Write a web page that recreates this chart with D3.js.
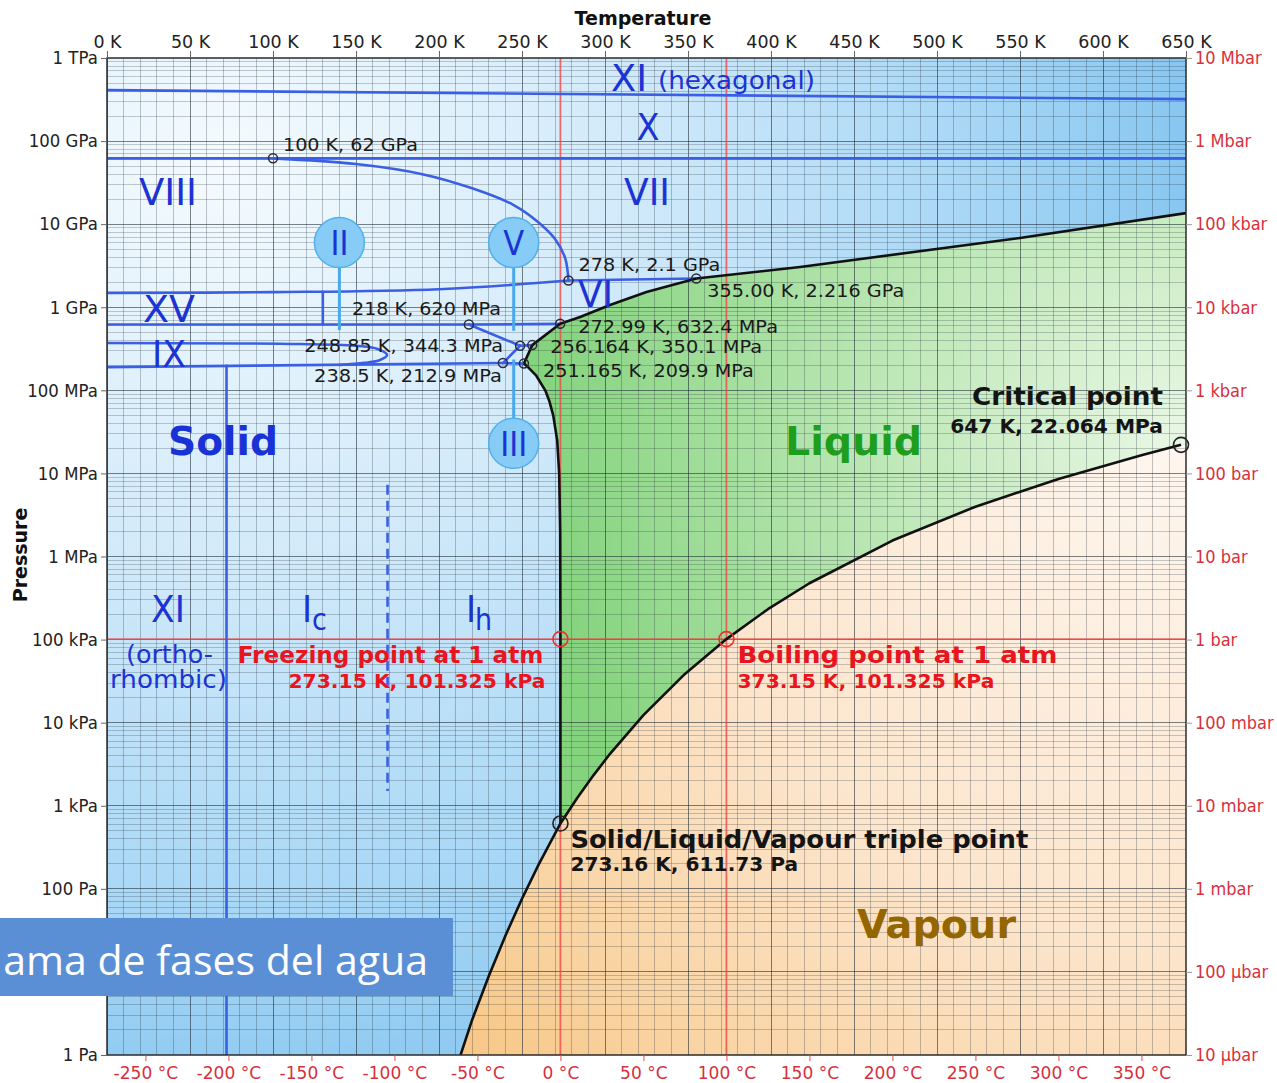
<!DOCTYPE html>
<html>
<head>
<meta charset="utf-8">
<script src="https://cdn.jsdelivr.net/npm/d3@7"></script>
<style>
  html, body { margin: 0; padding: 0; background: #ffffff; }
  svg { display: block; }
</style>
</head>
<body>
<svg id="chart" width="1277" height="1083"></svg>
<script>
// ---------------------------------------------------------------------------
// Data: phase diagram of water (temperature in K, pressure in Pa)
// ---------------------------------------------------------------------------
const tempTicksK = [0, 50, 100, 150, 200, 250, 300, 350, 400, 450, 500, 550, 600, 650];
const tempTicksC = [-250, -200, -150, -100, -50, 0, 50, 100, 150, 200, 250, 300, 350];
const pressureTicks = [1, 1e1, 1e2, 1e3, 1e4, 1e5, 1e6, 1e7, 1e8, 1e9, 1e10, 1e11, 1e12];
const pressureLabels = ["1 Pa", "10 Pa", "100 Pa", "1 kPa", "10 kPa", "100 kPa", "1 MPa",
                        "10 MPa", "100 MPa", "1 GPa", "10 GPa", "100 GPa", "1 TPa"];
const barTicks = [1e-5, 1e-4, 1e-3, 1e-2, 1e-1, 1, 10, 100, 1e3, 1e4, 1e5, 1e6, 1e7];
const barLabels = ["10 µbar", "100 µbar", "1 mbar", "10 mbar", "100 mbar", "1 bar", "10 bar",
                   "100 bar", "1 kbar", "10 kbar", "100 kbar", "1 Mbar", "10 Mbar"];

// Solid / vapour boundary
const sublimationCurve = [[213, 1.0], [220, 2.66], [230, 8.94], [240, 27.3], [250, 76.0],
                          [260, 195.8], [273.16, 611.73]];
// Liquid / vapour boundary
const vaporisationCurve = [[273.16, 611.73], [283.15, 1228], [293.15, 2339], [303.15, 4246],
                           [323.15, 12350], [348.15, 38580], [373.15, 101325], [398.15, 232200],
                           [423.15, 476200], [473.15, 1554700], [523.15, 3976000],
                           [573.15, 8587000], [623.15, 16529000], [647, 22064000]];
// Melting curves (ice Ih, III, V, VI, VII)
const meltingIh = [[273.16, 611.73], [273.15, 101325], [273.0, 2e6], [272.4, 1e7], [271.2, 2.5e7],
                   [268.8, 5e7], [266.4, 7.5e7], [264.0, 1e8], [258.6, 1.5e8], [253.6, 1.9e8],
                   [251.165, 209.9e6]];
const meltingIII = [[251.165, 209.9e6], [256.164, 350.1e6]];
const meltingV = [[256.164, 350.1e6], [272.99, 632.4e6]];
const meltingVI = [[272.99, 632.4e6], [285, 0.764e9], [303, 1.065e9], [325, 1.53e9], [355, 2.216e9]];
const meltingVII = [[355, 2.216e9], [417.5, 3.05e9], [550, 6.82e9], [650, 13.6e9]];

// Solid / solid boundaries
const lineXIhexX = [[0, 4.1e11], [650, 3.2e11]];
const lineXVII = [[0, 62e9], [650, 62e9]];
const lineVIIIVII = [[100, 62e9], [150, 53e9], [190, 40e9], [220, 27e9], [245, 17e9],
                     [260, 10.5e9], [270, 6.6e9], [276, 3.9e9], [278, 2.1e9]];
const lineVIVII = [[278, 2.1e9], [355, 2.216e9]];
const lineVIIIVI = [[0, 1.49e9], [100, 1.52e9], [200, 1.65e9], [278, 2.1e9]];
const lineXVVI = [[130, 620e6], [130, 1.53e9]];
const lineIIVI = [[0, 620e6], [218, 620e6]];
const lineVVI = [[218, 620e6], [272.99, 632.4e6]];
const lineIIV = [[218, 620e6], [248.85, 344.3e6]];
const lineIIIII = [[248.85, 344.3e6], [238.5, 212.9e6]];
const lineIIIV = [[248.85, 344.3e6], [256.164, 350.1e6]];
const lineIhII = [[0, 190e6], [238.5, 212.9e6]];
const lineIhIII = [[238.5, 212.9e6], [251.165, 209.9e6]];
const lineIXlens = [[0, 372e6], [116, 361e6], [152, 342e6], [163, 315e6], [168.7, 267e6],
                    [164.5, 232e6], [155, 214e6], [140, 202e6]];
const lineXIIh = [[72, 197e6], [72, 1]];
const lineIcIh = [[169, 7.3e6], [169, 1.5e3]];

// Triple points between phases
const tripleT = [100, 278, 355, 218, 272.99, 248.85, 256.164, 251.165, 238.5];
const tripleP = [62e9, 2.1e9, 2.216e9, 620e6, 632.4e6, 344.3e6, 350.1e6, 209.9e6, 212.9e6];
const tripleLabels = ["100 K, 62 GPa", "278 K, 2.1 GPa", "355.00 K, 2.216 GPa", "218 K, 620 MPa",
                      "272.99 K, 632.4 MPa", "248.85 K, 344.3 MPa", "256.164 K, 350.1 MPa",
                      "251.165 K, 209.9 MPa", "238.5 K, 212.9 MPa"];

// Reference points
const freezing = [273.15, 101325];
const boiling = [373.15, 101325];
const triplePoint = [273.16, 611.73];
const criticalPoint = [647, 22.064e6];

// Bubble labels for the small ice phases
const bubbleLabels = ["II", "V", "III"];
const bubbleT = [140, 245, 245];
const bubbleP = [6e9, 6e9, 2.3e7];
const bubbleTipP = [5.3e8, 5.2e8, 2.35e8];

// ---------------------------------------------------------------------------
// Scales
// ---------------------------------------------------------------------------
const svg = d3.select("#chart");
const x = d3.scaleLinear().domain([0, 650]).range([107, 1186]);
const y = d3.scaleLog().domain([1, 1e12]).range([1055, 58]);
const xC = d3.scaleLinear().domain([-273.15, 650 - 273.15]).range([107, 1186]);
const yBar = d3.scaleLog().domain([1e-5, 1e7]).range([1055, 58]);
const [x0, x1] = x.range();
const [y1, y0] = y.range();

const line = d3.line().x(d => x(d[0])).y(d => y(d[1]));
const smooth = d3.line().x(d => x(d[0])).y(d => y(d[1])).curve(d3.curveCatmullRom.alpha(0.5));

const FONT = "'DejaVu Sans', 'Verdana', sans-serif";
const BLUE_LINE = "#3b5fe4";
const NUMERAL = "#1c33d4";
const RED = "#e8141e";

function addText(parent, px, py, str, o = {}) {
  const t = parent.append("text")
    .attr("font-family", o.family || FONT)
    .attr("font-size", o.size || 18)
    .attr("font-weight", o.weight || "normal")
    .attr("fill", o.fill || "#1a1a1a")
    .attr("text-anchor", o.anchor || "start")
    .text(str);
  let sx = o.sx || 1;
  if (o.width) sx = o.width / t.node().getComputedTextLength();
  t.attr("transform", `translate(${px},${py}) scale(${sx},1)`);
  return t;
}

// ---------------------------------------------------------------------------
// Gradients and clips
// ---------------------------------------------------------------------------
const defs = svg.append("defs");
defs.append("clipPath").attr("id", "plotClip")
  .append("rect").attr("x", x0).attr("y", y0).attr("width", x1 - x0).attr("height", y1 - y0);

function radial(id, cx, cy, r, stops) {
  const g = defs.append("radialGradient").attr("id", id)
    .attr("gradientUnits", "userSpaceOnUse")
    .attr("cx", cx).attr("cy", cy).attr("r", r);
  stops.forEach(s => g.append("stop").attr("offset", s[0]).attr("stop-color", s[1]));
}
radial("solidGrad", 220, 160, 1000,
  [[0, "#f5fbfe"], [0.4, "#d2eafa"], [0.75, "#a8d7f6"], [1, "#84c4ef"]]);
radial("liquidGrad", x(criticalPoint[0]), y(criticalPoint[1]), 650,
  [[0, "#e9f7e5"], [0.45, "#bfe8b8"], [1, "#84d37d"]]);
radial("vapourGrad", x(criticalPoint[0]), y(criticalPoint[1]), 1000,
  [[0, "#fef6ef"], [0.5, "#fce5cc"], [0.8, "#f9d29f"], [1, "#f6c27c"]]);

// ---------------------------------------------------------------------------
// Phase fills
// ---------------------------------------------------------------------------
const plot = svg.append("g").attr("clip-path", "url(#plotClip)");
plot.append("rect").attr("x", x0).attr("y", y0).attr("width", x1 - x0).attr("height", y1 - y0)
  .attr("fill", "url(#solidGrad)");

const liquidPoly = [].concat(
  meltingIh, meltingIII.slice(1), meltingV.slice(1), meltingVI.slice(1), meltingVII.slice(1),
  [[650, criticalPoint[1]]], vaporisationCurve.slice().reverse());
plot.append("path").attr("d", line(liquidPoly) + "Z").attr("fill", "url(#liquidGrad)");

const vapourPoly = [].concat(
  sublimationCurve, vaporisationCurve.slice(1), [[650, criticalPoint[1]], [650, 1]]);
plot.append("path").attr("d", line(vapourPoly) + "Z").attr("fill", "url(#vapourGrad)");

// ---------------------------------------------------------------------------
// Grid
// ---------------------------------------------------------------------------
const grid = plot.append("g").attr("shape-rendering", "crispEdges");
d3.range(0, 651, 10).forEach(t => {
  grid.append("line").attr("x1", x(t)).attr("x2", x(t)).attr("y1", y0).attr("y2", y1)
    .attr("stroke", "#1e2a33").attr("stroke-opacity", t % 50 === 0 ? 0.58 : 0.27).attr("stroke-width", 1);
});
for (let e = 0; e < 12; e++) {
  for (let k = 1; k <= 9; k++) {
    const p = k * Math.pow(10, e);
    grid.append("line").attr("x1", x0).attr("x2", x1).attr("y1", y(p)).attr("y2", y(p))
      .attr("stroke", "#1e2a33").attr("stroke-opacity", k === 1 ? 0.58 : 0.24).attr("stroke-width", 1);
  }
}

// 1 atm reference lines
const refLines = plot.append("g").attr("stroke", "#ec4848").attr("stroke-opacity", 0.8).attr("stroke-width", 1.8);
[freezing[0], boiling[0]].forEach(t =>
  refLines.append("line").attr("x1", x(t)).attr("x2", x(t)).attr("y1", y0).attr("y2", y1));
refLines.append("line").attr("x1", x0).attr("x2", x1).attr("y1", y(freezing[1])).attr("y2", y(freezing[1]));

// ---------------------------------------------------------------------------
// Solid-solid boundaries
// ---------------------------------------------------------------------------
const blue = plot.append("g").attr("fill", "none").attr("stroke", BLUE_LINE)
  .attr("stroke-width", 2.6).attr("stroke-linejoin", "round").attr("stroke-linecap", "round");
[lineXIhexX, lineXVII, lineVIVII, lineXVVI, lineIIVI, lineVVI, lineIIV, lineIIIII, lineIIIV,
 lineIhII, lineIhIII, lineXIIh].forEach(d => blue.append("path").attr("d", line(d)));
[lineVIIIVII, lineVIIIVI, lineIXlens].forEach(d => blue.append("path").attr("d", smooth(d)));
blue.append("path").attr("d", line(lineIcIh)).attr("stroke-dasharray", "10,6").attr("stroke-linecap", "butt");

// Bubbles for ice II, V and III
const bub = svg.append("g");
bubbleLabels.forEach((lab, i) => {
  const cx = x(bubbleT[i]), cy = y(bubbleP[i]), tip = y(bubbleTipP[i]);
  const r = 25;
  const from = tip > cy ? cy + r : cy - r;
  bub.append("line").attr("x1", cx).attr("x2", cx).attr("y1", from).attr("y2", tip)
    .attr("stroke", "#48a9ea").attr("stroke-width", 3);
  bub.append("circle").attr("cx", cx).attr("cy", cy).attr("r", r)
    .attr("fill", "#86ccf6").attr("stroke", "#52b0ea").attr("stroke-width", 1.5);
  addText(bub, cx, cy + 12.5, lab, { size: 34, fill: NUMERAL, anchor: "middle", sx: 0.9 });
});

// ---------------------------------------------------------------------------
// Solid-liquid-vapour boundaries
// ---------------------------------------------------------------------------
const black = plot.append("g").attr("fill", "none").attr("stroke", "#111")
  .attr("stroke-width", 2.6).attr("stroke-linejoin", "round");
[sublimationCurve, vaporisationCurve, meltingIh, meltingIII, meltingV, meltingVI, meltingVII]
  .forEach(d => black.append("path").attr("d", line(d)));

// ---------------------------------------------------------------------------
// Markers
// ---------------------------------------------------------------------------
const marks = svg.append("g").attr("fill", "none");
tripleT.forEach((t, i) => marks.append("circle").attr("cx", x(t)).attr("cy", y(tripleP[i]))
  .attr("r", 4.5).attr("stroke", "#2a2a3a").attr("stroke-width", 1.5));
[freezing, boiling].forEach(d => marks.append("circle").attr("cx", x(d[0])).attr("cy", y(d[1]))
  .attr("r", 7.5).attr("stroke", "#e83030").attr("stroke-width", 1.6));
[triplePoint, criticalPoint].forEach(d => marks.append("circle").attr("cx", x(d[0])).attr("cy", y(d[1]))
  .attr("r", 7.5).attr("stroke", "#222").attr("stroke-width", 1.6));

// Frame
svg.append("rect").attr("x", x0).attr("y", y0).attr("width", x1 - x0).attr("height", y1 - y0)
  .attr("fill", "none").attr("stroke", "#2b2b2b").attr("stroke-width", 1.5);

// ---------------------------------------------------------------------------
// Axes
// ---------------------------------------------------------------------------
function styleAxis(g, color, tickColor, sx) {
  g.select(".domain").remove();
  g.selectAll(".tick line").attr("stroke", tickColor).attr("stroke-width", 1);
  g.selectAll(".tick text").attr("font-family", FONT).attr("font-size", 18).attr("fill", color)
    .attr("transform", `scale(${sx},1)`);
}
const axTop = svg.append("g").attr("transform", `translate(0,${y0})`)
  .call(d3.axisTop(x).tickValues(tempTicksK).tickFormat(d => d + " K").tickSize(7).tickPadding(3));
styleAxis(axTop, "#222", "#666", 0.97);

const axLeft = svg.append("g").attr("transform", `translate(${x0},0)`)
  .call(d3.axisLeft(y).tickValues(pressureTicks).tickFormat((d, i) => pressureLabels[i]).tickSize(6).tickPadding(4));
styleAxis(axLeft, "#222", "#666", 0.92);

const axRight = svg.append("g").attr("transform", `translate(${x1},0)`)
  .call(d3.axisRight(yBar).tickValues(barTicks).tickFormat((d, i) => barLabels[i]).tickSize(6).tickPadding(4));
styleAxis(axRight, "#d8303c", "#999", 0.9);

const axBottom = svg.append("g").attr("transform", `translate(0,${y1})`)
  .call(d3.axisBottom(xC).tickValues(tempTicksC).tickFormat(d => d + " °C").tickSize(6).tickPadding(5));
styleAxis(axBottom, "#d8303c", "#e05050", 0.95);

addText(svg, 643, 25, "Temperature", { size: 19, weight: "bold", anchor: "middle", fill: "#111", width: 137 });
addText(svg, 0, 0, "Pressure", { size: 19, weight: "bold", anchor: "middle", fill: "#111" })
  .attr("transform", "translate(27,555) rotate(-90)");

// ---------------------------------------------------------------------------
// Labels
// ---------------------------------------------------------------------------
const labels = svg.append("g");

// Phase numerals
addText(labels, 611, 91, "XI", { size: 38, fill: NUMERAL, width: 36 });
addText(labels, 658, 89, "(hexagonal)", { size: 25, fill: NUMERAL, width: 157 });
addText(labels, 648, 140, "X", { size: 38, fill: NUMERAL, anchor: "middle", width: 23 });
addText(labels, 647, 205, "VII", { size: 38, fill: NUMERAL, anchor: "middle", width: 46 });
addText(labels, 168, 205, "VIII", { size: 38, fill: NUMERAL, anchor: "middle", width: 58 });
addText(labels, 578, 307, "VI", { size: 38, fill: NUMERAL, width: 35 });
addText(labels, 143, 322, "XV", { size: 38, fill: NUMERAL, width: 52 });
addText(labels, 152, 367, "IX", { size: 38, fill: NUMERAL, width: 34 });
addText(labels, 151, 622, "XI", { size: 38, fill: NUMERAL, width: 34 });
addText(labels, 126, 663, "(ortho-", { size: 24, fill: NUMERAL, width: 87 });
addText(labels, 110, 688, "rhombic)", { size: 24, fill: NUMERAL, width: 117 });
addText(labels, 302, 622, "I", { size: 38, fill: NUMERAL, sx: 0.9 });
addText(labels, 312, 630, "c", { size: 30, fill: NUMERAL, sx: 0.9 });
addText(labels, 466, 622, "I", { size: 38, fill: NUMERAL, sx: 0.9 });
addText(labels, 475, 630, "h", { size: 30, fill: NUMERAL, sx: 0.9 });

// Phase names
addText(labels, 168, 455, "Solid", { size: 39, weight: "bold", fill: "#1832d6", width: 110 });
addText(labels, 785, 455, "Liquid", { size: 39, weight: "bold", fill: "#1e9e1e", width: 137 });
addText(labels, 857, 938, "Vapour", { size: 39, weight: "bold", fill: "#936600", width: 159 });

// Triple point annotations
const tripleLayout = [
  [10, -7, "start", 135], [10, -9, "start", 142], [11, 18, "start", 197], [32, -9, "end", 149],
  [18, 9, "start", 200], [-17, 6, "end", 199], [18, 8, "start", 212], [19, 13, "start", 211],
  [-1, 19, "end", 188]];
tripleLabels.forEach((lab, i) => {
  const [dx, dy, anchor, w] = tripleLayout[i];
  addText(labels, x(tripleT[i]) + dx, y(tripleP[i]) + dy, lab, { size: 18, anchor, width: w, fill: "#1a1a1a" });
});

// 1 atm points, triple point and critical point
addText(labels, x(freezing[0]) - 17, y(freezing[1]) + 24, "Freezing point at 1 atm",
  { size: 23, weight: "bold", fill: RED, anchor: "end", width: 306 });
addText(labels, x(freezing[0]) - 15, y(freezing[1]) + 49, "273.15 K, 101.325 kPa",
  { size: 19, weight: "bold", fill: RED, anchor: "end", width: 257 });
addText(labels, x(boiling[0]) + 11, y(boiling[1]) + 24, "Boiling point at 1 atm",
  { size: 23, weight: "bold", fill: RED, width: 320 });
addText(labels, x(boiling[0]) + 11, y(boiling[1]) + 49, "373.15 K, 101.325 kPa",
  { size: 19, weight: "bold", fill: RED, width: 257 });
addText(labels, x(triplePoint[0]) + 10, y(triplePoint[1]) + 24.5, "Solid/Liquid/Vapour triple point",
  { size: 24, weight: "bold", fill: "#141414", width: 458 });
addText(labels, x(triplePoint[0]) + 10, y(triplePoint[1]) + 48, "273.16 K, 611.73 Pa",
  { size: 19, weight: "bold", fill: "#141414", width: 228 });
addText(labels, x(criticalPoint[0]) - 18, y(criticalPoint[1]) - 40, "Critical point",
  { size: 25, weight: "bold", fill: "#141414", anchor: "end", width: 191 });
addText(labels, x(criticalPoint[0]) - 18, y(criticalPoint[1]) - 12, "647 K, 22.064 MPa",
  { size: 20, weight: "bold", fill: "#141414", anchor: "end", width: 213 });

// ---------------------------------------------------------------------------
// Title banner (the text box is cropped on its left side)
// ---------------------------------------------------------------------------
const titleEnd = 428, titleVisibleWidth = 425;
const banner = svg.append("g");
banner.append("rect").attr("x", 0).attr("y", 918).attr("width", 453).attr("height", 78).attr("fill", "#5a8fd6");
defs.append("clipPath").attr("id", "bannerClip")
  .append("rect").attr("x", titleEnd - titleVisibleWidth + 0.5).attr("y", 918)
  .attr("width", titleVisibleWidth + 30).attr("height", 78);
const title = banner.append("g").attr("clip-path", "url(#bannerClip)").append("text")
  .attr("font-family", "'Open Sans', 'Lato', sans-serif").attr("font-size", 40)
  .attr("fill", "#ffffff").attr("text-anchor", "end")
  .text("Diagrama de fases del agua");
const visible = title.node().getSubStringLength(5, 21);
title.attr("transform", `translate(${titleEnd},975) scale(${titleVisibleWidth / visible},1)`);
</script>
</body>
</html>
